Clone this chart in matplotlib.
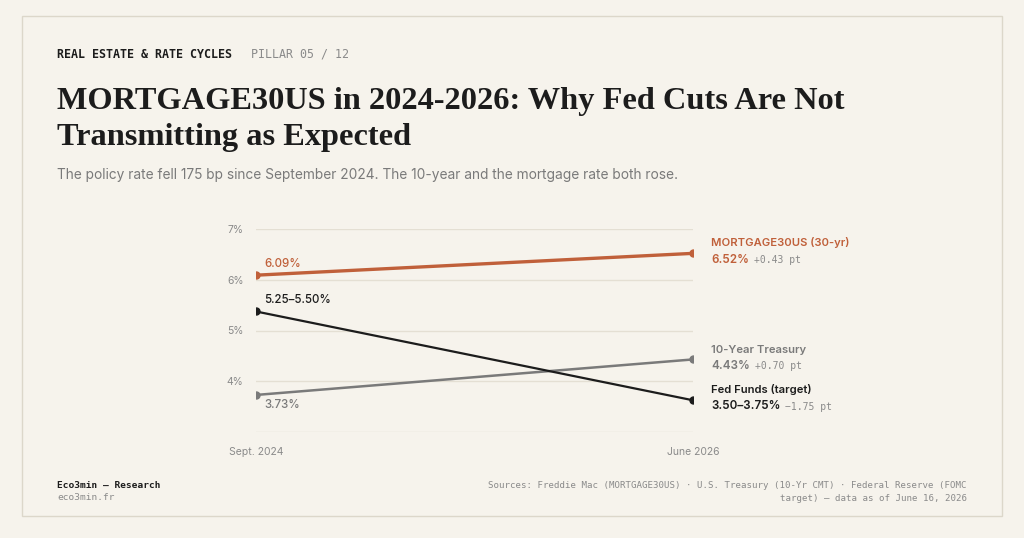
import matplotlib
matplotlib.use("Agg")
import matplotlib.pyplot as plt
from matplotlib.patches import Rectangle

# data
dates = ["Sept. 2024", "June 2026"]
mortgage = [6.09, 6.52]
treasury = [3.73, 4.43]
fed_funds = [5.375, 3.625]  # midpoint of target range
fed_labels = ["5.25–5.50%", "3.50–3.75%"]
yticks = [4, 5, 6, 7]

BG = "#f6f3ec"
ORANGE = "#c0603a"
GRAY = "#7a7a7a"
DARK = "#1c1c1c"
GRID = "#e4dfd3"

plt.rcParams["font.family"] = ["Inter", "DejaVu Sans"]

fig = plt.figure(figsize=(10.24, 5.38), dpi=100)
fig.patch.set_facecolor(BG)

# card border
fig.add_artist(Rectangle((22 / 1024, 1 - 516 / 538), 980 / 1024, 500 / 538,
                         transform=fig.transFigure, fill=False,
                         edgecolor="#dcd7ca", linewidth=1))

# header
fig.text(57 / 1024, 1 - 54 / 538, "REAL ESTATE & RATE CYCLES", family="DejaVu Sans Mono",
         weight="bold", fontsize=8.4, color=DARK, va="center")
fig.text(251 / 1024, 1 - 54 / 538, "PILLAR 05 / 12", family="DejaVu Sans Mono",
         fontsize=8.4, color="#8a8a8a", va="center")
fig.text(57 / 1024, 1 - 145 / 538,
         "MORTGAGE30US in 2024-2026: Why Fed Cuts Are Not\nTransmitting as Expected",
         family="Liberation Serif", weight="bold", fontsize=23.3, color=DARK,
         linespacing=1.33, va="baseline")
fig.text(57 / 1024, 1 - 175 / 538,
         "The policy rate fell 175 bp since September 2024. The 10-year and the mortgage rate both rose.",
         fontsize=9.9, color=GRAY, va="center")

# footer
fig.text(57 / 1024, 1 - 485 / 538, "Eco3min — Research", family="DejaVu Sans Mono",
         weight="bold", fontsize=6.8, color=DARK, va="center")
fig.text(57 / 1024, 1 - 497 / 538, "eco3min.fr", family="DejaVu Sans Mono",
         fontsize=6.8, color="#8a8a8a", va="center")
fig.text(967 / 1024, 1 - 492 / 538,
         "Sources: Freddie Mac (MORTGAGE30US) · U.S. Treasury (10-Yr CMT) · Federal Reserve (FOMC\n"
         "target) — data as of June 16, 2026",
         family="DejaVu Sans Mono", fontsize=6.55, color="#8a8a8a", va="center", ha="right",
         multialignment="right", linespacing=1.5)

# chart
ax = fig.add_axes([256 / 1024, 1 - 432 / 538, 437 / 1024, 203 / 538])
ax.set_facecolor(BG)
x = [0, 1]
ax.set_xlim(0, 1)
ax.set_ylim(3, 7)
for v in [3] + yticks:
    ax.axhline(v, color=GRID, linewidth=1, zorder=0)
ax.plot(x, treasury, color=GRAY, linewidth=1.8, marker="o", markersize=5, zorder=3)
ax.plot(x, fed_funds, color=DARK, linewidth=1.6, marker="o", markersize=5, zorder=4)
ax.plot(x, mortgage, color=ORANGE, linewidth=2.4, marker="o", markersize=5, zorder=5)

for s in ax.spines.values():
    s.set_visible(False)
ax.set_yticks(yticks)
ax.set_yticklabels([f"{v}%" for v in yticks])
ax.set_xticks(x)
ax.set_xticklabels(dates)
ax.tick_params(length=0, labelsize=7.5, colors="#8a8a8a")
ax.tick_params(axis="y", pad=9)
ax.tick_params(axis="x", pad=11)

# start labels
ax.annotate(f"{mortgage[0]:.2f}%", (0, mortgage[0]), xytext=(6, 4), textcoords="offset points",
            color=ORANGE, fontsize=8.3, weight="medium", va="bottom")
ax.annotate(fed_labels[0], (0, fed_funds[0]), xytext=(6, 4), textcoords="offset points",
            color=DARK, fontsize=8.3, weight="medium", va="bottom")
ax.annotate(f"{treasury[0]:.2f}%", (0, treasury[0]), xytext=(6, -3), textcoords="offset points",
            color=GRAY, fontsize=8.3, weight="medium", va="top")

# end labels
fig.canvas.draw()
renderer = fig.canvas.get_renderer()


def end_label(y, name, value, delta, color, name_dy, val_dy):
    ax.annotate(name, (1, y), xytext=(13, name_dy), textcoords="offset points",
                color=color, fontsize=8.1, weight="semibold", va="center", annotation_clip=False)
    t = ax.annotate(value, (1, y), xytext=(13, val_dy), textcoords="offset points",
                    color=color, fontsize=8.4, weight="semibold", va="center", annotation_clip=False)
    bb = t.get_window_extent(renderer)
    w = bb.width * 72 / fig.dpi
    ax.annotate(delta, (1, y), xytext=(13 + w + 3.5, val_dy - 0.5), textcoords="offset points",
                color="#8a8a8a", fontsize=7, family="DejaVu Sans Mono", va="center",
                annotation_clip=False)


end_label(mortgage[1], "MORTGAGE30US (30-yr)", f"{mortgage[1]:.2f}%",
          f"+{mortgage[1] - mortgage[0]:.2f} pt", ORANGE, 7.5, -4.5)
end_label(treasury[1], "10-Year Treasury", f"{treasury[1]:.2f}%",
          f"+{treasury[1] - treasury[0]:.2f} pt", GRAY, 6.5, -4.5)
end_label(fed_funds[1], "Fed Funds (target)", fed_labels[1],
          "−1.75 pt", DARK, 7.5, -4)

fig.savefig("out.png", dpi=100, facecolor=BG)
